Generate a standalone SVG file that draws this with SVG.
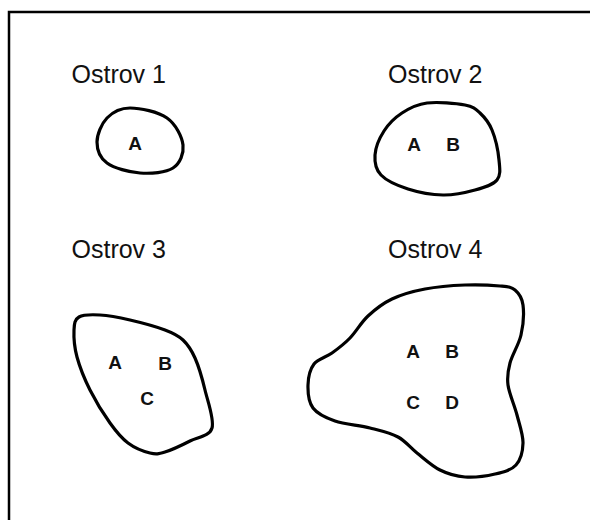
<svg xmlns="http://www.w3.org/2000/svg" width="590" height="520" viewBox="0 0 590 520">
<style>
.frame{fill:none;stroke:#000;stroke-width:2.5}
.blob{fill:none;stroke:#000;stroke-width:3.2;stroke-linejoin:round}
.title{font-family:"Liberation Sans",Arial,sans-serif;font-size:25px;fill:#111}
.lbl{font-family:"Liberation Sans",Arial,sans-serif;font-size:19px;font-weight:bold;fill:#111;text-anchor:middle}
</style>
<rect width="590" height="520" fill="#fff"/>
<rect class="frame" x="9" y="12" width="600" height="600"/>
<g id="ostrov1">
<text class="title" x="71.5" y="82.5">Ostrov 1</text>
<path class="blob" d="M130,108 C140,108 158.2,111.8 167,118 C175.8,124.2 182,136.7 183,145 C184,153.3 180.2,163.3 173,168 C165.8,172.7 151,173.8 140,173 C129,172.2 114.2,168.2 107,163 C99.8,157.8 97,149.5 97,142 C97,134.5 101.5,123.7 107,118 C112.5,112.3 120,108 130,108 Z"/>
<text class="lbl" x="135" y="150">A</text>
</g>
<g id="ostrov2">
<text class="title" x="388" y="82.5">Ostrov 2</text>
<path class="blob" d="M427,103 C437.5,101.7 456.2,103.3 465,105 C473.8,106.7 475.5,108.8 480,113 C484.5,117.2 488.8,122.2 492,130 C495.2,137.8 498.2,151.7 499,160 C499.8,168.3 501,175 497,180 C493,185 484,187.5 475,190 C466,192.5 454.2,195.2 443,195 C431.8,194.8 418.3,192.3 408,189 C397.7,185.7 386.5,180.7 381,175 C375.5,169.3 374.5,162.3 375,155 C375.5,147.7 379.5,138 384,131 C388.5,124 394.8,117.7 402,113 C409.2,108.3 416.5,104.3 427,103 Z"/>
<text class="lbl" x="414" y="151">A</text>
<text class="lbl" x="453" y="151">B</text>
</g>
<g id="ostrov3">
<text class="title" x="71.5" y="257.5">Ostrov 3</text>
<path class="blob" d="M79,317 C83.3,314.5 91.5,314.5 100,315 C108.5,315.5 119.2,317.5 130,320 C140.8,322.5 156.2,326.7 165,330 C173.8,333.3 178,335.3 183,340 C188,344.7 191.3,349.7 195,358 C198.7,366.3 202.2,378.3 205,390 C207.8,401.7 214.5,419.5 212,428 C209.5,436.5 197.8,437 190,441 C182.2,445 171.7,450 165,452 C158.3,454 156.2,454.5 150,453 C143.8,451.5 134.7,448 128,443 C121.3,438 116.3,431.8 110,423 C103.7,414.2 95.5,401 90,390 C84.5,379 79.7,367 77,357 C74.3,347 73.7,336.7 74,330 C74.3,323.3 74.7,319.5 79,317 Z"/>
<text class="lbl" x="115" y="368.5">A</text>
<text class="lbl" x="165" y="370">B</text>
<text class="lbl" x="147" y="405">C</text>
</g>
<g id="ostrov4">
<text class="title" x="388" y="257.5">Ostrov 4</text>
<path class="blob" d="M500,286 C508.3,286.8 511.2,286.8 515,290 C518.8,293.2 522,297.5 523,305 C524,312.5 523.2,325.3 521,335 C518.8,344.7 512.2,354.7 510,363 C507.8,371.3 506.8,376.3 508,385 C509.2,393.7 514.5,405.3 517,415 C519.5,424.7 523.2,434.7 523,443 C522.8,451.3 520.7,459.8 516,465 C511.3,470.2 503.5,472 495,474 C486.5,476 474.2,477.7 465,477 C455.8,476.3 448,474 440,470 C432,466 424,458.5 417,453 C410,447.5 405.8,441.2 398,437 C390.2,432.8 380.5,430.7 370,428 C359.5,425.3 344.5,424.3 335,421 C325.5,417.7 317.5,414 313,408 C308.5,402 307.8,392.3 308,385 C308.2,377.7 310,369.3 314,364 C318,358.7 326,357.3 332,353 C338,348.7 344,344.2 350,338 C356,331.8 361,322.5 368,316 C375,309.5 382.5,303.5 392,299 C401.5,294.5 412.8,291.3 425,289 C437.2,286.7 452.5,285.5 465,285 C477.5,284.5 491.7,285.2 500,286 Z"/>
<text class="lbl" x="413" y="357.5">A</text>
<text class="lbl" x="452" y="357.5">B</text>
<text class="lbl" x="413" y="408.5">C</text>
<text class="lbl" x="452" y="408.5">D</text>
</g>
<g id="connectors"/>
</svg>
